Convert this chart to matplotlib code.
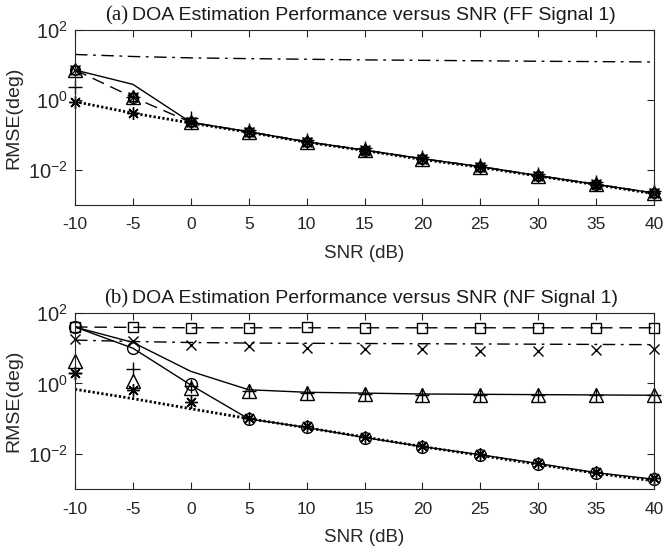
import matplotlib
matplotlib.use("Agg")
import matplotlib.pyplot as plt
import numpy as np

SANS = 'Liberation Sans'
SERIF = 'Liberation Serif'
plt.rcParams['font.family'] = [SANS, 'DejaVu Sans']
plt.rcParams['mathtext.fontset'] = 'custom'
plt.rcParams['mathtext.rm'] = SANS
plt.rcParams['mathtext.it'] = SANS

snr = [-10, -5, 0, 5, 10, 15, 20, 25, 30, 35, 40]
xtick_labels = ['-10', '-5', '0', '5', '10', '15', '20', '25', '30', '35', '40']

# ---- panel (a): FF signal 1 ----
a_dashdot = [20, 17.5, 16, 15.2, 14.6, 14, 13.6, 13.2, 12.8, 12.5, 12.2]
a_solid = [7.2, 2.8, 0.23, 0.124, 0.064, 0.037, 0.021, 0.0125, 0.0069, 0.0039, 0.0022]
a_dashed = [7.2, 1.2, 0.23, 0.124, 0.064, 0.037, 0.021, 0.0125, 0.0069, 0.0039, 0.0022]
a_dotted = [0.9, 0.42, 0.22, 0.12, 0.062, 0.036, 0.02, 0.012, 0.0067, 0.0038, 0.0021]
a_square = [7.2, 1.2, 0.23, 0.124, 0.064, 0.037, 0.021, 0.0125, 0.0069, 0.0039, 0.0022]
a_circle = [7.0, 1.15, 0.23, 0.122, 0.063, 0.036, 0.021, 0.0123, 0.0068, 0.0038, 0.0022]
a_cross = [7.0, 1.2, 0.23, 0.124, 0.064, 0.037, 0.021, 0.0125, 0.0069, 0.0039, 0.0022]
a_triangle = [7.2, 1.24, 0.23, 0.124, 0.064, 0.037, 0.021, 0.0125, 0.0069, 0.0039, 0.0022]
a_plus = [2.4, 1.2, 0.3, 0.14, 0.072, 0.042, 0.024, 0.014, 0.0078, 0.0044, 0.0025]
a_star = [0.9, 0.42, 0.23, 0.122, 0.063, 0.036, 0.021, 0.0123, 0.0068, 0.0038, 0.0022]

# ---- panel (b): NF signal 1 ----
b_dashed = [40, 39, 38, 38, 38, 38, 38, 38, 38, 38, 38]
b_dashdot = [17, 15.5, 14.5, 14, 13.8, 13.6, 13.4, 13.2, 13, 12.8, 12.6]
b_solid_upper = [40, 14.6, 2.2, 0.66, 0.56, 0.53, 0.5, 0.49, 0.48, 0.47, 0.46]
b_solid_lower = [40, 10, 0.9, 0.098, 0.056, 0.029, 0.016, 0.0094, 0.0053, 0.0029, 0.0019]
b_dotted = [0.68, 0.37, 0.19, 0.1, 0.055, 0.03, 0.016, 0.009, 0.005, 0.0028, 0.0017]
b_square = [41, 41, 37, 37, 41, 37, 37, 37, 37, 37, 37]
b_cross = [18, 16.5, 12.5, 11.4, 10.2, 9.3, 9.3, 8.2, 8.2, 8.7, 9.3]
b_circle = [40, 10, 0.94, 0.098, 0.056, 0.029, 0.016, 0.0094, 0.0053, 0.0029, 0.0019]
b_triangle = [4.3, 1.16, 0.75, 0.6, 0.52, 0.5, 0.48, 0.47, 0.47, 0.47, 0.46]
b_plus = [2.0, 2.5, 0.85, 0.6, 0.52, 0.5, 0.48, 0.47, 0.47, 0.47, 0.46]
b_star = [2.0, 0.63, 0.29, 0.105, 0.06, 0.031, 0.017, 0.0099, 0.0056, 0.0031, 0.002]

W, H = 663, 557
fig = plt.figure(figsize=(W / 100, H / 100), dpi=100)

def ax_rect(l, t, r, b):
    return [l / W, 1 - b / H, (r - l) / W, (b - t) / H]

ax1 = fig.add_axes(ax_rect(75, 30, 654, 205))
ax2 = fig.add_axes(ax_rect(75, 313, 654, 489))

DASH = (0, (9, 5))
DASHDOT = (0, (9, 4, 2, 4))
DOT = (0, (0.8, 0.8))
STAR = (8, 2, 0)
K = 'black'

def lines(ax, specs):
    for y, ls, lw in specs:
        ax.plot(snr, y, color=K, linestyle=ls, linewidth=lw, dash_capstyle='butt')

def marks(ax, specs):
    for y, m, ms in specs:
        ax.plot(snr, y, linestyle='none', marker=m, markersize=ms, clip_on=False,
                markerfacecolor='none', markeredgecolor=K, markeredgewidth=1.0)

lines(ax1, [(a_dashdot, DASHDOT, 1.0), (a_solid, '-', 1.0),
            (a_dashed, DASH, 1.0), (a_dotted, DOT, 2.0)])
marks(ax1, [(a_square, 's', 6), (a_circle, 'o', 7), (a_cross, 'x', 7),
            (a_triangle, '^', 9.5), (a_plus, '+', 10), (a_star, STAR, 9)])

lines(ax2, [(b_dashed, DASH, 1.0), (b_dashdot, DASHDOT, 1.0),
            (b_solid_upper, '-', 1.0), (b_solid_lower, '-', 1.0),
            (b_dotted, DOT, 2.0)])
marks(ax2, [(b_square, 's', 6.5), (b_circle, 'o', 8.5), (b_cross, 'x', 7.5),
            (b_triangle, '^', 9.5), (b_plus, '+', 10), (b_star, STAR, 9)])

for ax in (ax1, ax2):
    ax.set_yscale('log')
    ax.set_xlim(-10, 40)
    ax.set_ylim(1e-3, 1e2)
    ax.set_xticks(snr)
    ax.set_xticklabels(xtick_labels)
    ax.set_yticks([1e-2, 1e0, 1e2])
    ax.set_yticklabels([r'$10^{-2}$', r'$10^{0}$', r'$10^{2}$'])
    ax.yaxis.set_minor_locator(matplotlib.ticker.NullLocator())
    ax.tick_params(direction='in', length=5, width=0.8, top=True, right=True,
                   labelsize=12.5, colors='#262626', pad=9)
    ax.tick_params(axis='y', labelsize=14.5, pad=5)
    for s in ax.spines.values():
        s.set_linewidth(0.8)
        s.set_color('#262626')
    ax.set_xlabel('SNR (dB)', fontsize=13.5, color='#262626', labelpad=9)
    ax.set_ylabel('RMSE(deg)', fontsize=14, color='#262626', labelpad=4)

def title(y_px, tag, text):
    fig.text(128 / W, 1 - y_px / H, tag, family=SERIF, fontsize=15,
             ha='right', va='baseline', color='#1a1a1a')
    fig.text(132 / W, 1 - y_px / H, text, family=[SANS], fontsize=14,
             ha='left', va='baseline', color='#1a1a1a')

title(20, '(a)', 'DOA Estimation Performance versus SNR (FF Signal 1)')
title(303, '(b)', 'DOA Estimation Performance versus SNR (NF Signal 1)')

fig.savefig('out.png', dpi=100)
